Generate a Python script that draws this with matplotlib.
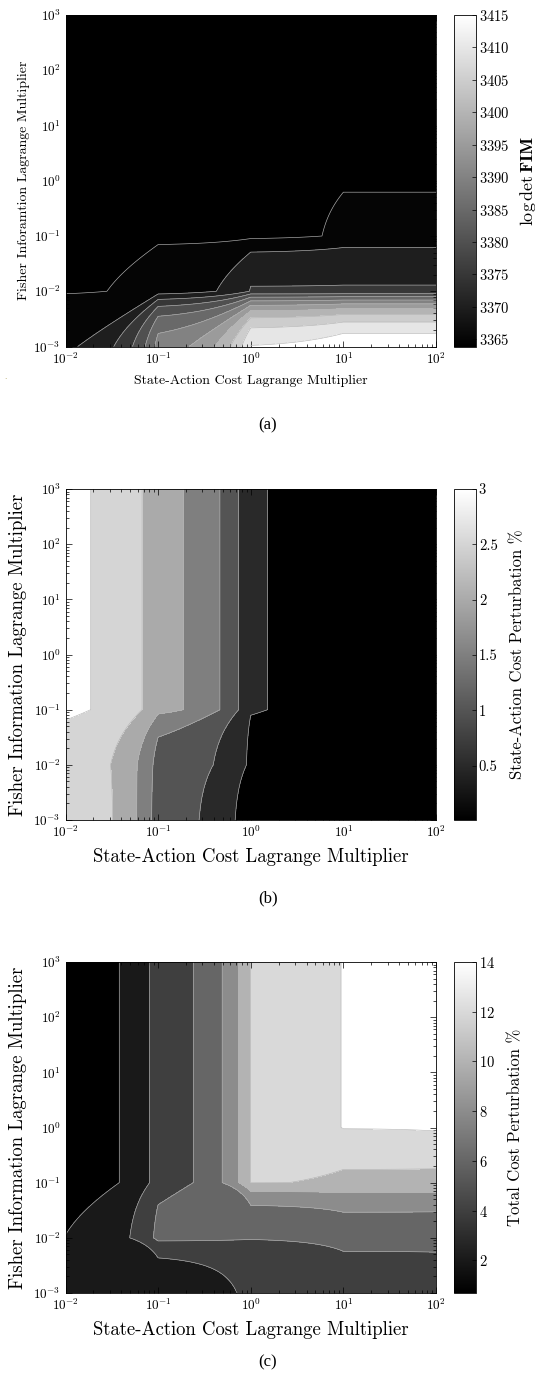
import numpy as np
import matplotlib.pyplot as plt
from matplotlib.path import Path
from matplotlib.colors import Normalize
from matplotlib.cm import ScalarMappable

plt.rcParams['font.family'] = 'serif'
plt.rcParams['font.serif'] = ['cmr10', 'DejaVu Serif']
plt.rcParams['mathtext.fontset'] = 'cm'
plt.rcParams['axes.formatter.use_mathtext'] = True
plt.rcParams['axes.unicode_minus'] = False

# grid of Lagrange multipliers
lam_sa = [1e-2, 1e-1, 1e0, 1e1, 1e2]               # state-action cost (x)
lam_fi = [1e-3, 1e-2, 1e-1, 1e0, 1e1, 1e2, 1e3]    # fisher information (y)

# (a) log det FIM, one row per lam_fi value
fim = [
    [3369.1, 3392.0, 3415.2, 3418.5, 3418.5],
    [3364.5, 3367.0, 3375.3, 3375.3, 3375.3],
    [3364.0, 3364.0, 3363.7, 3366.1, 3366.1],
    [3363.9, 3363.9, 3363.9, 3364.2, 3364.2],
    [3363.9, 3363.9, 3363.9, 3363.9, 3363.9],
    [3363.9, 3363.9, 3363.9, 3363.9, 3363.9],
    [3363.9, 3363.9, 3363.9, 3363.9, 3363.9],
]
fim_levels = [3365, 3370, 3375, 3380, 3385, 3390, 3395, 3400, 3405, 3410, 3415]
fim_clim = (3363.9, 3415)
fim_ticks = [3365, 3370, 3375, 3380, 3385, 3390, 3395, 3400, 3405, 3410, 3415]

# (b) state-action cost perturbation %
sa_pert = [
    [2.92, 1.22, 0.10, 0.01, 0.01],
    [2.86, 1.29, 0.40, 0.01, 0.01],
    [3.09, 2.16, 0.53, 0.01, 0.01],
    [3.09, 2.16, 0.53, 0.01, 0.01],
    [3.09, 2.16, 0.53, 0.01, 0.01],
    [3.09, 2.16, 0.53, 0.01, 0.01],
    [3.09, 2.16, 0.53, 0.01, 0.01],
]
sa_levels = [0.5, 1.0, 1.5, 2.0, 2.5, 3.0]
sa_clim = (0.01, 3.0)
sa_ticks = [0.5, 1.0, 1.5, 2.0, 2.5, 3.0]
sa_ticklabels = ['0.5', '1', '1.5', '2', '2.5', '3']

# (c) total cost perturbation %
tot_pert = [
    [2.30, 2.50, 4.71, 4.94, 5.05],
    [2.02, 6.55, 6.10, 6.97, 6.95],
    [0.69, 4.89, 12.04, 11.81, 11.77],
    [0.69, 4.89, 12.04, 14.13, 14.40],
    [0.69, 4.89, 12.04, 14.13, 14.40],
    [0.69, 4.89, 12.04, 14.13, 14.40],
    [0.69, 4.89, 12.04, 14.13, 14.40],
]
tot_levels = [2, 4, 6, 8, 10, 12, 14]
tot_clim = (0.69, 14)
tot_ticks = [2, 4, 6, 8, 10, 12, 14]

W, H = 536, 1385


def box(l, t, r, b):
    return [l / W, 1 - b / H, (r - l) / W, (b - t) / H]


def bend(cs, n=24):
    # contours are straight in linear data space, so split each segment
    # before the log transform to get the curved look
    new = []
    t = np.linspace(0, 1, n, endpoint=False)
    for p in cs.get_paths():
        parts = []
        for poly in p.to_polygons(closed_only=False):
            if len(poly) < 2:
                continue
            seg = poly[:-1, None, :] + (poly[1:, None, :] - poly[:-1, None, :]) * t[None, :, None]
            parts.append(Path(np.vstack([seg.reshape(-1, 2), poly[-1:]])))
        new.append(Path.make_compound_path(*parts) if parts else p)
    cs.set_paths(new)


def panel(rect, crect, z, levels, clim, ticks, ticklabels, cblabel, cbsize, cbpad,
          xlabel, ylabel, lsize, xl_y, yl_x):
    ax = fig.add_axes(box(*rect))
    cax = fig.add_axes(box(*crect))
    z = np.array(z)
    X, Y = np.meshgrid(lam_sa, lam_fi)
    norm = Normalize(*clim)
    cmap = plt.get_cmap('gray')
    bounds = [z.min()] + list(levels) + [z.max()]
    cols = [cmap(np.clip(norm(b), 0, 1)) for b in bounds[:-1]]
    ax.set_xscale('log')
    ax.set_yscale('log')
    cf = ax.contourf(X, Y, z, levels=bounds, colors=cols)
    cl = ax.contour(X, Y, z, levels=levels, colors='#b4b4b4', linewidths=0.45)
    bend(cf)
    bend(cl)
    ax.set_xlim(1e-2, 1e2)
    ax.set_ylim(1e-3, 1e3)
    ax.tick_params(which='both', direction='in', top=True, right=True, labelsize=9.5, width=0.5)
    ax.tick_params(which='major', length=4)
    ax.tick_params(which='minor', length=2)
    for s in ax.spines.values():
        s.set_linewidth(0.6)
    ax.set_xlabel(xlabel, fontsize=lsize)
    ax.set_ylabel(ylabel, fontsize=lsize)
    ax.xaxis.set_label_coords(0.5, xl_y)
    ax.yaxis.set_label_coords(yl_x, 0.5)

    cb = fig.colorbar(ScalarMappable(norm=norm, cmap=cmap), cax=cax)
    cb.set_ticks(ticks)
    if ticklabels is not None:
        cb.set_ticklabels(ticklabels)
    cb.outline.set_linewidth(0.6)
    cax.tick_params(direction='in', length=3, width=0.5, labelsize=10.5, pad=2)
    cb.set_label(cblabel, fontsize=cbsize, labelpad=cbpad)
    return ax, cax


fig = plt.figure(figsize=(W / 100, H / 100), dpi=100)

panel((65.5, 15, 436, 346.5), (454, 15, 476, 346.5), fim, fim_levels, fim_clim,
      fim_ticks, None, r'$\log\det\mathbf{FIM}$', 13, 6,
      'State-Action Cost Lagrange Multiplier', 'Fisher Inforamtion Lagrange Multiplier',
      10, -0.085, -0.095)

panel((65.5, 489, 436, 820), (454, 489, 476, 820), sa_pert, sa_levels, sa_clim,
      sa_ticks, sa_ticklabels, 'State-Action Cost Perturbation %', 12, 9,
      'State-Action Cost Lagrange Multiplier', 'Fisher Information Lagrange Multiplier',
      13.5, -0.085, -0.105)

panel((65.5, 962, 436, 1293), (454, 962, 476, 1293), tot_pert, tot_levels, tot_clim,
      tot_ticks, None, 'Total Cost Perturbation %', 12, 9,
      'State-Action Cost Lagrange Multiplier', 'Fisher Information Lagrange Multiplier',
      13.5, -0.085, -0.105)

for cap, yy in [('(a)', 425), ('(b)', 898), ('(c)', 1362)]:
    fig.text(268 / W, 1 - yy / H, cap, ha='center', va='center', fontsize=12,
             family='Liberation Serif')
fig.text(5 / W, 1 - 377 / H, '.', ha='center', va='center', fontsize=6, color='#a89a50')

fig.savefig('out.png', dpi=100)
